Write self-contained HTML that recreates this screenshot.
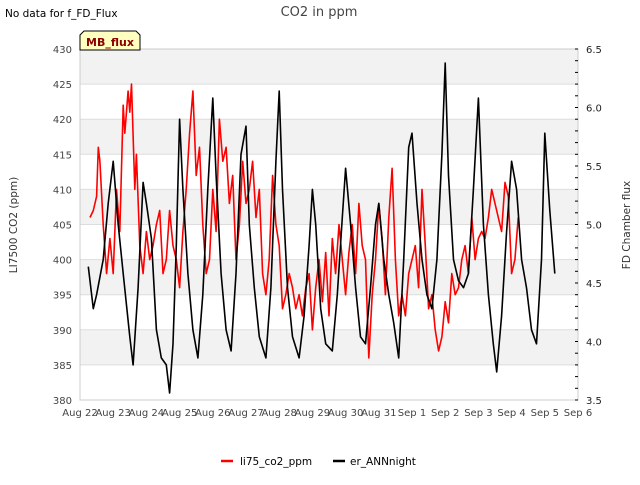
<!DOCTYPE html>
<html><head><meta charset="utf-8"><style>
body{margin:0;background:#fff;font-family:"Liberation Sans","DejaVu Sans",sans-serif}
svg text{font-family:"DejaVu Sans","Liberation Sans",sans-serif}
</style></head><body>
<svg id="c" width="640" height="480" xmlns="http://www.w3.org/2000/svg">
<text x="5" y="17" font-size="10.5" fill="#000">No data for f_FD_Flux</text>
<text x="319" y="16" font-size="13" fill="#444" text-anchor="middle">CO2 in ppm</text>
<text transform="translate(17,225) rotate(-90)" font-size="10.5" text-anchor="middle" fill="#333">LI7500 CO2 (ppm)</text>
<text transform="translate(630,225) rotate(-90)" font-size="10.5" text-anchor="middle" fill="#333">FD Chamber flux</text>
<g id="grid"></g><g id="axes"></g><g id="series"></g>
<g><path d="M80,50 L80,35 L84,31 L136,31 L140,35 L140,50 Z" fill="#ffffc0" stroke="#000" stroke-width="1"/><text x="110" y="46" font-size="11" font-weight="bold" fill="#8b0000" text-anchor="middle">MB_flux</text></g>
<g>
<line x1="221" y1="461" x2="233" y2="461" stroke="red" stroke-width="2.5"/><text x="240" y="465" font-size="10.5" fill="#000">li75_co2_ppm</text>
<line x1="333" y1="461" x2="345" y2="461" stroke="#000" stroke-width="2.5"/><text x="350" y="465" font-size="10.5" fill="#000">er_ANNnight</text>
</g>
</svg>
<script>
const xTickLabels=["Aug 22","Aug 23","Aug 24","Aug 25","Aug 26","Aug 27","Aug 28","Aug 29","Aug 30","Aug 31","Sep 1","Sep 2","Sep 3","Sep 4","Sep 5","Sep 6"];
const yTicks=[380,385,390,395,400,405,410,415,420,425,430];
const y2Ticks=[3.5,4.0,4.5,5.0,5.5,6.0,6.5];
const redDays=[0.3,0.4,0.5,0.55,0.6,0.7,0.8,0.9,1.0,1.1,1.2,1.3,1.35,1.45,1.5,1.55,1.65,1.7,1.8,1.9,2.0,2.1,2.2,2.3,2.4,2.5,2.6,2.7,2.8,2.9,3.0,3.1,3.2,3.3,3.4,3.5,3.6,3.7,3.8,3.9,4.0,4.1,4.2,4.3,4.4,4.5,4.6,4.7,4.8,4.9,5.0,5.1,5.2,5.3,5.4,5.5,5.6,5.7,5.8,5.9,6.0,6.1,6.2,6.3,6.4,6.5,6.6,6.7,6.8,6.9,7.0,7.1,7.2,7.3,7.4,7.5,7.6,7.7,7.8,7.9,8.0,8.1,8.2,8.3,8.4,8.5,8.6,8.7,8.8,8.9,9.0,9.1,9.2,9.3,9.4,9.5,9.6,9.7,9.8,9.9,10.0,10.1,10.2,10.3,10.4,10.5,10.6,10.7,10.8,10.9,11.0,11.1,11.2,11.3,11.4,11.5,11.6,11.7,11.8,11.9,12.0,12.1,12.2,12.3,12.4,12.5,12.6,12.7,12.8,12.9,13.0,13.1,13.2,13.3,13.4,13.5,13.6,13.7,13.8,13.9,14.0];
const redVals=[406,407,409,416,414,405,398,403,398,410,404,422,418,424,421,425,410,415,402,398,404,400,402,405,407,398,400,407,402,400,396,404,410,418,424,412,416,405,398,400,410,404,420,414,416,408,412,400,405,414,408,410,414,406,410,398,395,400,412,405,402,393,395,398,396,393,395,392,396,398,390,396,400,394,401,392,403,398,405,400,395,401,405,398,408,402,400,386,395,400,408,403,395,406,413,400,392,395,392,398,400,402,396,410,402,393,395,390,387,389,394,391,398,395,396,400,402,398,406,400,403,404,403,406,410,408,406,404,411,409,398,400,406];
const blackDays=[0.25,0.4,0.5,0.7,0.85,1.0,1.15,1.3,1.5,1.6,1.75,1.9,2.0,2.15,2.3,2.45,2.6,2.7,2.8,2.9,3.0,3.1,3.25,3.4,3.55,3.7,3.85,4.0,4.1,4.25,4.4,4.55,4.7,4.85,5.0,5.1,5.25,5.4,5.6,5.75,5.9,6.0,6.1,6.25,6.4,6.6,6.75,6.9,7.0,7.1,7.25,7.4,7.6,7.75,7.9,8.0,8.15,8.3,8.45,8.6,8.75,8.9,9.0,9.15,9.3,9.45,9.6,9.75,9.9,10.0,10.15,10.3,10.45,10.6,10.75,10.9,11.0,11.1,11.25,11.4,11.55,11.7,11.85,12.0,12.15,12.3,12.45,12.55,12.7,12.85,13.0,13.15,13.3,13.45,13.6,13.75,13.9,14.0,14.15,14.3];
const blackVals=[399,393,395,400,408,414,405,398,389,385,396,411,408,403,390,386,385,381,388,402,420,410,398,390,386,395,410,423,412,398,390,387,398,415,419,405,396,389,386,396,414,424,410,396,389,386,392,402,410,405,393,388,387,395,406,413,405,396,389,388,396,405,408,400,395,391,386,400,416,418,408,400,395,393,400,415,428,412,400,397,396,398,410,423,405,395,388,384,392,404,414,410,400,396,390,388,400,418,407,398];
const svg=document.getElementById('c'),NS="http://www.w3.org/2000/svg";
const L=80,R=578,T=49,B=400;
const xs=d=>L+(R-L)*d/15, ys=v=>B-(B-T)*(v-380)/50, ys2=v=>B-(B-T)*(v-3.5)/3;
function mk(tag,attrs,parent){const e=document.createElementNS(NS,tag);for(const k in attrs)e.setAttribute(k,attrs[k]);parent.appendChild(e);return e;}
const grid=document.getElementById('grid'),axes=document.getElementById('axes'),ser=document.getElementById('series');
for(let i=0;i<yTicks.length-1;i++){if(i%2===1){const r=mk('rect',{x:L,y:ys(yTicks[i+1]),width:R-L,height:ys(yTicks[i])-ys(yTicks[i+1]),fill:'#f2f2f2'},grid);

}}
yTicks.forEach(v=>{const l=mk('line',{x1:L,x2:R,y1:ys(v),y2:ys(v),stroke:'#ddd'},grid);


const t=mk('text',{x:L-8,y:ys(v)+4,'font-size':10,fill:'#444','text-anchor':'end'},axes);t.textContent=v;

});
mk('rect',{x:L,y:T,width:R-L,height:B-T,fill:'none',stroke:'#ccc'},axes);
for(let v=3.5;v<=6.501;v+=0.1){const y=ys2(v);mk('line',{x1:R,x2:R-3,y1:y,y2:y,stroke:'#000'},axes);}
y2Ticks.forEach(v=>{const t=mk('text',{x:R+8,y:ys2(v)+4,'font-size':10,fill:'#222'},axes);t.textContent=v.toFixed(1);

});
xTickLabels.forEach((s,i)=>{const t=mk('text',{x:xs(i),y:416,'font-size':10,fill:'#444','text-anchor':'middle'},axes);t.textContent=s;

});
function line(days,vals,color,name){const p=mk('polyline',{points:days.map((d,i)=>xs(d).toFixed(1)+','+ys(vals[i]).toFixed(1)).join(' '),fill:'none',stroke:color,'stroke-width':1.6,'stroke-linejoin':'round'},ser);

}
line(redDays,redVals,'red','li75-co2-line');
line(blackDays,blackVals,'#000','er-annnight-line');
</script>
</body></html>
